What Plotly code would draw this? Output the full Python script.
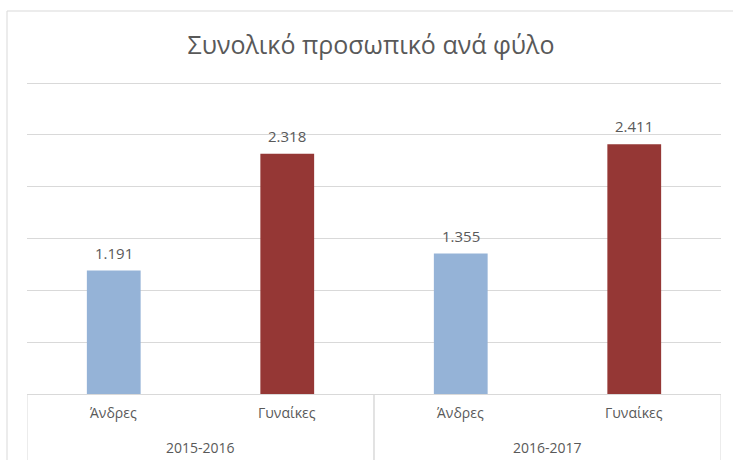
import plotly.graph_objects as go

periods = ["2015-2016", "2015-2016", "2016-2017", "2016-2017"]
genders = ["Άνδρες", "Γυναίκες", "Άνδρες", "Γυναίκες"]
values = [1191, 2318, 1355, 2411]
title_text = "Συνολικό προσωπικό ανά φύλο"

gender_colors = {"Άνδρες": "#95B3D7", "Γυναίκες": "#953735"}

FONT = "Open Sans"
GRAY = "#595959"
LINE = "#D9D9D9"

W, H = 733, 460
ml, mr, mt, mb = 27, 12, 80, 66
pw = W - ml - mr
ph = H - mt - mb

xpos = list(range(len(values)))

fig = go.Figure(
    go.Bar(
        x=xpos,
        y=values,
        marker=dict(color=[gender_colors[g] for g in genders], line=dict(width=0)),
        width=0.31,
        hoverinfo="skip",
    )
)

annotations = []
# data labels
for i, v in zip(xpos, values):
    annotations.append(dict(
        x=i, xref="x", y=v, yref="y", yanchor="middle", yshift=18,
        text=f"{v:,}".replace(",", "."), showarrow=False,
        font=dict(family=FONT, size=15, color=GRAY),
    ))

# category labels
for i, g in enumerate(genders):
    annotations.append(dict(
        x=i, xref="x", y=-18 / ph, yref="paper", yanchor="middle",
        text=g, showarrow=False, font=dict(family=FONT, size=14, color=GRAY),
    ))

# group labels and dividers
groups = []
for i, p in enumerate(periods):
    if not groups or groups[-1][0] != p:
        groups.append([p, i, i])
    else:
        groups[-1][2] = i

shapes = []
for p, a, b in groups:
    annotations.append(dict(
        x=(a + b) / 2, xref="x", y=-53 / ph, yref="paper", yanchor="middle",
        text=p, showarrow=False, font=dict(family=FONT, size=14, color=GRAY),
    ))
    for edge in (a - 0.5, b + 0.5):
        shapes.append(dict(
            type="line", xref="x", yref="paper", x0=edge, x1=edge,
            y0=0, y1=-(mb + 5) / ph, line=dict(color=LINE, width=1),
        ))

# outer chart border
shapes.append(dict(
    type="rect", xref="paper", yref="paper",
    x0=(7 - ml) / pw, x1=(W + 10 - ml) / pw,
    y0=-(mb + 10) / ph, y1=(H - mb - 11) / ph,
    line=dict(color=LINE, width=1), fillcolor="rgba(0,0,0,0)", layer="below",
))

fig.update_layout(
    width=W,
    height=H,
    margin=dict(l=ml, r=mr, t=mt, b=mb, pad=0),
    paper_bgcolor="white",
    plot_bgcolor="white",
    showlegend=False,
    title=dict(
        text=title_text,
        x=(371 - ml) / pw,
        xref="paper",
        xanchor="center",
        y=1 - 45 / H,
        yref="container",
        yanchor="middle",
        font=dict(family=FONT, size=25, color=GRAY),
    ),
    font=dict(family=FONT, color=GRAY),
    xaxis=dict(
        range=[-0.5, len(values) - 0.5],
        showline=True,
        linecolor=LINE,
        linewidth=1,
        showticklabels=False,
        ticks="",
        showgrid=False,
        zeroline=False,
        fixedrange=True,
        automargin=False,
    ),
    yaxis=dict(
        range=[0, 3030],
        dtick=500,
        showgrid=True,
        gridcolor=LINE,
        gridwidth=1,
        showticklabels=False,
        zeroline=False,
        showline=False,
        ticks="",
        fixedrange=True,
        automargin=False,
    ),
    annotations=annotations,
    shapes=shapes,
)

fig.write_html(
    "out.html",
    config={"displayModeBar": False},
    post_script="document.body.style.margin='0px';",
)
